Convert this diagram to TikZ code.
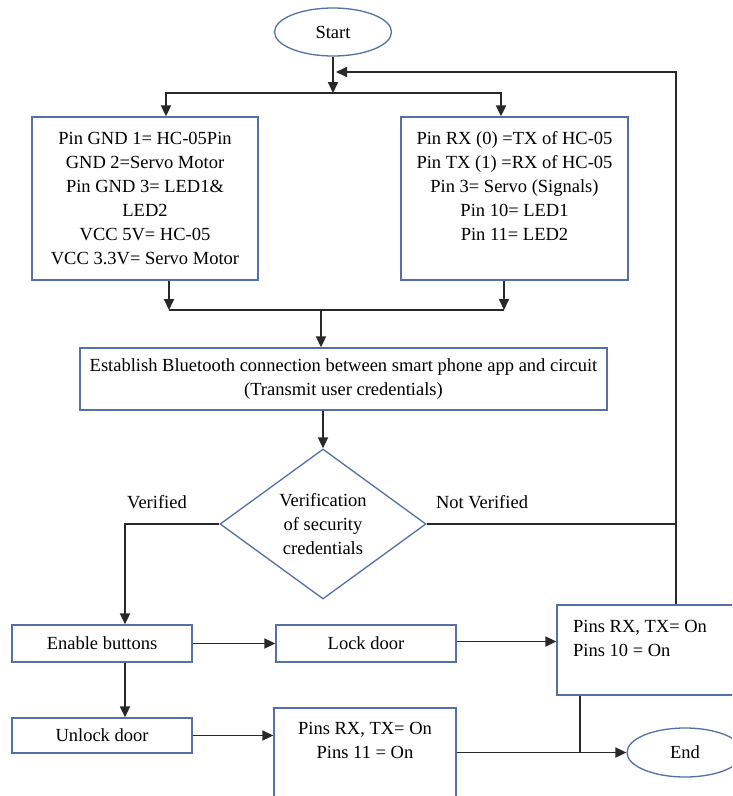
\documentclass[tikz,border=0pt]{standalone}
\usepackage{fontspec}
\setmainfont{Liberation Serif}
\usepackage{tikz}
\usetikzlibrary{shapes.geometric, arrows.meta, positioning}
\definecolor{boxblue}{RGB}{84,112,164}
\definecolor{linegray}{RGB}{40,40,40}
\tikzstyle{proceso} = [draw=boxblue, line width=1.3pt, rectangle, inner sep=0pt, align=center, fill=white]
\tikzstyle{terminal} = [draw=boxblue, line width=1.3pt, ellipse, inner sep=0pt, fill=white]
\tikzstyle{decision} = [draw=boxblue, line width=1.3pt, diamond, inner sep=0pt, align=center]
\tikzstyle{flecha} = [draw=linegray, line width=1.8pt, -{Triangle[length=11pt,width=10pt]}]
\tikzstyle{linea} = [draw=linegray, line width=1.8pt]
\tikzstyle{texto} = [inner sep=0pt, align=center]

\begin{document}
\begin{tikzpicture}[x=1pt, y=-1pt, font=\fontsize{18.5}{24}\selectfont]
	\useasboundingbox (0,0) rectangle (732,796);
	\fill[white] (0,0) rectangle (732,796);
	\clip (0,0) rectangle (732,796);
	% nodos
	\node[terminal, minimum width=117pt, minimum height=48pt] (start) at (333,32) {Start};
	\node[proceso, minimum width=226pt, minimum height=163pt] (pinsa) at (145,198.5) {%
		Pin GND 1= HC-05Pin\\ GND 2=Servo Motor\\ Pin GND 3= LED1\&\\ LED2\\ VCC 5V= HC-05\\ VCC 3.3V= Servo Motor};
	\node[proceso, minimum width=227pt, minimum height=163pt] (pinsb) at (514.5,198.5) {};
	\node[texto] at (514.5,185.5) {Pin RX (0) =TX of HC-05\\ Pin TX (1) =RX of HC-05\\ Pin 3= Servo (Signals)\\ Pin 10= LED1\\ Pin 11= LED2};
	\node[proceso, minimum width=527pt, minimum height=62pt] (blue) at (343.5,379) {%
		Establish Bluetooth connection between smart phone app and circuit\\ (Transmit user credentials)};
	\node[decision, minimum width=206pt, minimum height=150pt] (check) at (323,524) {Verification\\ of security\\ credentials};
	\node[texto] at (157,502) {Verified};
	\node[texto] at (482,502) {Not Verified};
	\node[proceso, minimum width=180pt, minimum height=37pt] (enable) at (102,643.5) {Enable buttons};
	\node[proceso, minimum width=180pt, minimum height=37pt] (lock) at (366,643.5) {Lock door};
	\node[proceso, minimum width=183pt, minimum height=90pt] (pinsc) at (648.5,650) {};
	\node[texto, anchor=west, align=left] at (573,638) {Pins RX, TX= On\\ Pins 10 = On};
	\node[proceso, minimum width=180pt, minimum height=35pt] (unlock) at (102,735.5) {Unlock door};
	\node[proceso, minimum width=182pt, minimum height=122pt] (pinsd) at (365,769) {};
	\node[texto] at (365,740) {Pins RX, TX= On\\ Pins 11 = On};
	\node[terminal, minimum width=116pt, minimum height=49pt] (end) at (685,752.5) {End};
	% puntos auxiliares
	\coordinate (split) at (333,93);
	\coordinate (merge) at (321,310);
	\coordinate (loop) at (676,72);
	\coordinate (back) at (336,72);
	\coordinate (joint) at (580,752.5);
	% conectores
	\draw[flecha] (start) -- (split);
	\draw[linea] (166,93) -- (501,93);
	\draw[flecha] (split) -| (pinsa.north -| 166,0);
	\draw[flecha] (split) -| (pinsb.north -| 501,0);
	\draw[flecha] (pinsa.south -| 169,0) -- (169,310);
	\draw[flecha] (pinsb.south -| 504,0) -- (504,310);
	\draw[linea] (169,310) -- (504,310);
	\draw[flecha] (merge) -- (blue.north -| merge);
	\draw[flecha] (blue.south -| check.north) -- (check.north);
	\draw[flecha] (check.west) -| ([xshift=23pt]enable.north);
	\draw[linea] (check.east) -- (check.east -| loop);
	\draw[flecha] (pinsc.north -| loop) -- (loop) -- (back);
	\draw[flecha] (enable.east) -- (lock.west);
	\draw[flecha] ([yshift=2pt]lock.east) -- ([yshift=2pt]lock.east -| pinsc.west);
	\draw[flecha] ([xshift=23pt]enable.south) -- ([xshift=23pt]unlock.north);
	\draw[flecha] (unlock.east) -- (unlock.east -| pinsd.west);
	\draw[flecha] (end.west -| pinsd.east) -- (end.west);
	\draw[linea] (pinsc.south -| joint) -- (joint);
\end{tikzpicture}
\end{document}
